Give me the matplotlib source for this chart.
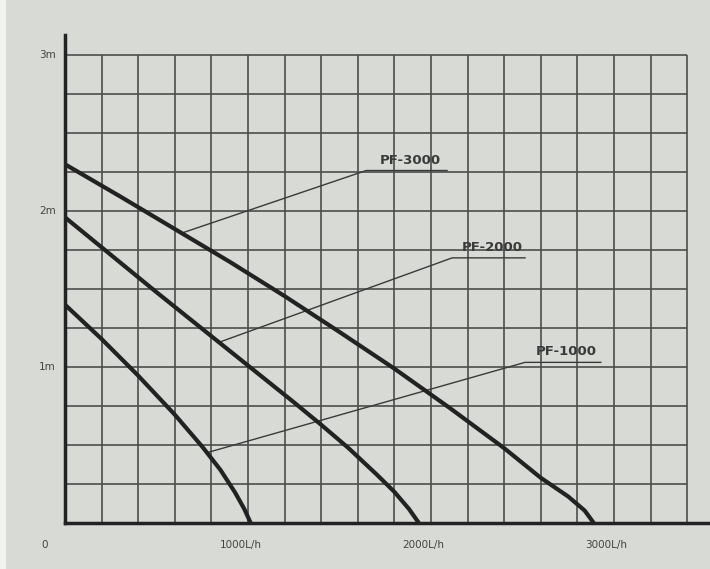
import matplotlib.pyplot as plt
from matplotlib.patches import Rectangle

# pump curves (flow L/h, head m)
pf1000_flow = [0, 200, 400, 600, 750, 850, 930, 980, 1015]
pf1000_head = [1.40, 1.18, 0.945, 0.695, 0.49, 0.34, 0.195, 0.09, 0.0]
pf2000_flow = [0, 250, 500, 750, 1000, 1250, 1400, 1550, 1700, 1800, 1880, 1934]
pf2000_head = [1.96, 1.72, 1.48, 1.245, 1.01, 0.775, 0.63, 0.48, 0.315, 0.20, 0.09, 0.0]
pf3000_flow = [0, 300, 600, 900, 1200, 1500, 1800, 2100, 2400, 2600, 2750, 2840, 2890]
pf3000_head = [2.30, 2.095, 1.885, 1.675, 1.455, 1.225, 0.99, 0.74, 0.48, 0.29, 0.17, 0.08, 0.0]

# leader lines: point on curve -> elbow -> end of underline
labels = ["PF-3000", "PF-2000", "PF-1000"]
leader_x = [[641, 1646, 2088], [845, 2116, 2514], [773, 2514, 2928]]
leader_y = [[1.86, 2.26, 2.26], [1.16, 1.70, 1.70], [0.45, 1.03, 1.03]]

y_ticks = [1, 2, 3]
y_tick_labels = ["1m", "2m", "3m"]
x_ticks = [1000, 2000, 3000]
x_tick_labels = ["1000L/h", "2000L/h", "3000L/h"]

paper = "#d8dad6"
ink = "#222222"
grid_ink = "#4c4e4c"

fig = plt.figure(figsize=(7.1, 5.69), dpi=100)
fig.patch.set_facecolor(paper)
fig.patches.append(Rectangle((0, 0), 0.009, 1, transform=fig.transFigure,
                             facecolor="#f2f2f0", edgecolor="none", zorder=0))
ax = fig.add_axes([0.0915, 0.0808, 0.9085, 0.858])
ax.set_facecolor(paper)
ax.set_xlim(0, 3525)
ax.set_ylim(0, 3.13)

# grid paper: 200 L/h by 0.25 m up to 3400 L/h and 3 m
gx = [i * 200 for i in range(1, 18)]
gy = [i * 0.25 for i in range(1, 13)]
ax.vlines(gx, 0, 3.0, color=grid_ink, lw=1.2, zorder=1)
ax.hlines(gy, 0, 3400, color=grid_ink, lw=1.2, zorder=1)

for fl, hd in [(pf1000_flow, pf1000_head), (pf2000_flow, pf2000_head), (pf3000_flow, pf3000_head)]:
    ax.plot(fl, hd, color=ink, lw=3, solid_capstyle="butt", solid_joinstyle="round", zorder=3)

for name, lx, ly in zip(labels, leader_x, leader_y):
    ax.plot(lx, ly, color="#3a3a3a", lw=1.0, zorder=2)
    ax.text((lx[1] + lx[2]) / 2 + 20, ly[1] + 0.025, name, ha="center", va="bottom",
            fontsize=9.5, fontweight="bold", color="#3a3a3a", zorder=4)

for s in ["top", "right"]:
    ax.spines[s].set_visible(False)
for s in ["left", "bottom"]:
    ax.spines[s].set_color(ink)
    ax.spines[s].set_linewidth(2.5)

ax.set_xticks([])
ax.set_yticks([])
for v, t in zip(y_ticks, y_tick_labels):
    ax.text(-50, v, t, ha="right", va="center", fontsize=7.5, color="#444444")
for v, t in zip(x_ticks, x_tick_labels):
    ax.text(v - 40, -0.14, t, ha="center", va="center", fontsize=7.5, color="#444444")
ax.text(-110, -0.14, "0", ha="center", va="center", fontsize=7.5, color="#444444")

fig.savefig("out.png", dpi=100, facecolor=fig.get_facecolor())
